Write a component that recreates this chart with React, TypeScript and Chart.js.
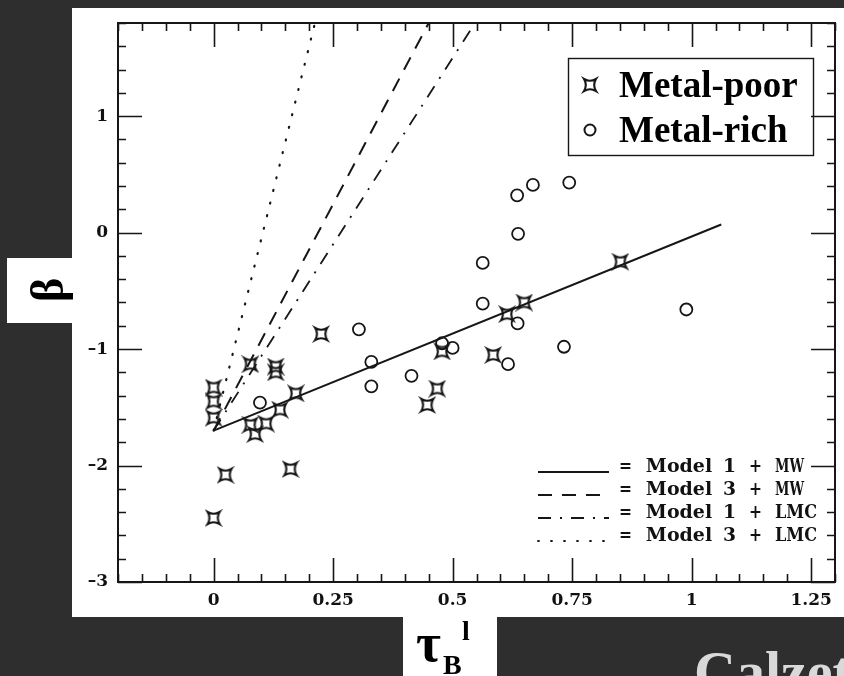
import React, { useEffect, useRef } from "react";
import { Chart, registerables } from "chart.js";

Chart.register(...registerables);

// Metal-poor starbursts: optical depth tau_B^l and UV slope beta
const metalPoorTau = [0, 0, 0, 0, 0.025, 0.077, 0.077, 0.087, 0.11, 0.13, 0.13, 0.139, 0.161, 0.172, 0.225, 0.447, 0.468, 0.478, 0.585, 0.614, 0.65, 0.851];
const metalPoorBeta = [-1.33, -1.45, -1.59, -2.45, -2.08, -1.13, -1.65, -1.73, -1.64, -1.15, -1.2, -1.52, -2.03, -1.38, -0.87, -1.48, -1.34, -1.02, -1.05, -0.7, -0.6, -0.25];

// Metal-rich starbursts
const metalRichTau = [0.097, 0.304, 0.33, 0.33, 0.414, 0.478, 0.5, 0.563, 0.563, 0.616, 0.635, 0.637, 0.636, 0.668, 0.733, 0.744, 0.989];
const metalRichBeta = [-1.46, -0.83, -1.11, -1.32, -1.23, -0.95, -0.99, -0.26, -0.61, -1.13, 0.32, -0.01, -0.78, 0.41, -0.98, 0.43, -0.66];

// Model tracks (start and end points)
const model1MwTau = [0, 1.062];
const model1MwBeta = [-1.7, 0.07];
const model3MwTau = [0, 0.45];
const model3MwBeta = [-1.7, 1.8];
const model1LmcTau = [0, 0.547];
const model1LmcBeta = [-1.7, 1.8];
const model3LmcTau = [0, 0.212];
const model3LmcBeta = [-1.7, 1.8];

const xTickValues = [0, 0.25, 0.5, 0.75, 1, 1.25];
const xTickLabels = ["0", "0.25", "0.5", "0.75", "1", "1.25"];
const yTickValues = [-3, -2, -1, 0, 1];
const yTickLabels = ["\u20133", "\u20132", "\u20131", "0", "1"];

const X_MIN = -0.2;
const X_MAX = 1.3;
const Y_MIN = -3;
const Y_MAX = 1.8;
const X_MINOR = 0.05;
const Y_MINOR = 0.2;

const INK = "#161616";
const DASHED = [14, 10];
const DASH_DOT = [13, 9, 2, 9];
const DOTTED = [1, 12];

const zip = (xs: number[], ys: number[]) => xs.map((x, i) => ({ x, y: ys[i] }));

function makeStar(): HTMLCanvasElement {
  const c = document.createElement("canvas");
  c.width = 18;
  c.height = 18;
  const g = c.getContext("2d")!;
  const m = 9;
  const r = 6;
  const k = 2.4;
  g.strokeStyle = INK;
  g.lineWidth = 2.1;
  g.beginPath();
  g.moveTo(m - r, m - r);
  g.quadraticCurveTo(m, m - k, m + r, m - r);
  g.quadraticCurveTo(m + k, m, m + r, m + r);
  g.quadraticCurveTo(m, m + k, m - r, m + r);
  g.quadraticCurveTo(m - k, m, m - r, m - r);
  g.closePath();
  g.stroke();
  return c;
}

// Draws a label on a fixed character grid, fitting each word to its cells
function drawCells(ctx: CanvasRenderingContext2D, text: string, x0: number, baseline: number, cell: number) {
  ctx.font = 'bold 19px "DejaVu Serif"';
  ctx.textAlign = "left";
  ctx.textBaseline = "alphabetic";
  let i = 0;
  while (i < text.length) {
    if (text[i] === " ") {
      i++;
      continue;
    }
    let j = i;
    while (j < text.length && text[j] !== " ") j++;
    const tok = text.slice(i, j);
    const span = (j - i) * cell + (j - i > 1 ? 3 : 0);
    const w = ctx.measureText(tok).width;
    const sx = Math.min(1, span / w);
    const start = x0 + i * cell + Math.max(0, (span - w * sx) / 2);
    ctx.save();
    ctx.translate(start, baseline);
    ctx.scale(sx, 1);
    ctx.fillText(tok, 0, 0);
    ctx.restore();
    i = j;
  }
}

export default function App() {
  const ref = useRef<HTMLCanvasElement | null>(null);

  useEffect(() => {
    document.body.style.margin = "0";
    const canvas = ref.current!;
    const star = makeStar();

    const paper = {
      id: "paper",
      beforeDraw(chart: Chart) {
        const ctx = chart.ctx;
        ctx.save();
        ctx.fillStyle = "#2e2e2e";
        ctx.fillRect(0, 0, chart.width, chart.height);
        ctx.fillStyle = "#ffffff";
        ctx.fillRect(72, 8, chart.width - 72, 609);
        ctx.fillRect(7, 258, 65, 65);
        ctx.fillRect(403, 617, 94, 59);

        // y axis title
        ctx.fillStyle = "#000";
        ctx.save();
        ctx.translate(63, 290);
        ctx.rotate(-Math.PI / 2);
        ctx.font = 'bold 46px "Liberation Serif"';
        ctx.textAlign = "center";
        ctx.textBaseline = "alphabetic";
        ctx.fillText("\u03b2", 0, 0);
        ctx.restore();

        // x axis title
        ctx.textAlign = "left";
        ctx.textBaseline = "alphabetic";
        ctx.font = 'bold 54px "Liberation Serif"';
        ctx.fillText("\u03c4", 416, 661);
        ctx.font = 'bold 28px "Liberation Serif"';
        ctx.fillText("B", 443, 674);
        ctx.fillText("l", 462, 640);

        // author credit
        ctx.fillStyle = "#d9d9d9";
        ctx.font = 'bold 58px "Liberation Serif"';
        ctx.fillText("Calzetti", 694, 691);
        ctx.restore();
      },
      afterDraw(chart: Chart) {
        const ctx = chart.ctx;
        const { left, right, top, bottom } = chart.chartArea;
        const xs = chart.scales.x;
        const ys = chart.scales.y;
        ctx.save();
        ctx.strokeStyle = INK;
        ctx.lineWidth = 1.6;
        ctx.beginPath();
        for (let i = 0; ; i++) {
          const v = X_MIN + i * X_MINOR;
          if (v > X_MAX + 1e-9) break;
          const px = Math.round(xs.getPixelForValue(v)) + 0.5;
          const major = xTickValues.some((t) => Math.abs(t - v) < 1e-6);
          const len = major ? 24 : 8;
          ctx.moveTo(px, bottom);
          ctx.lineTo(px, bottom - len);
          ctx.moveTo(px, top);
          ctx.lineTo(px, top + len);
        }
        for (let i = 0; ; i++) {
          const v = Y_MIN + i * Y_MINOR;
          if (v > Y_MAX + 1e-9) break;
          const py = Math.round(ys.getPixelForValue(v)) + 0.5;
          const major = yTickValues.some((t) => Math.abs(t - v) < 1e-6);
          const len = major ? 24 : 8;
          ctx.moveTo(left, py);
          ctx.lineTo(left + len, py);
          ctx.moveTo(right, py);
          ctx.lineTo(right - len, py);
        }
        ctx.stroke();
        ctx.lineWidth = 2;
        ctx.strokeRect(left, top, right - left, bottom - top);

        // symbol key
        const ds = chart.data.datasets;
        ctx.lineWidth = 1.4;
        ctx.strokeRect(568.5, 58.5, 245, 97);
        ctx.drawImage(star, 590 - 9, 85 - 9);
        ctx.lineWidth = 2;
        ctx.beginPath();
        ctx.arc(590, 130, 5.5, 0, Math.PI * 2);
        ctx.stroke();
        ctx.fillStyle = "#000";
        ctx.font = 'bold 37px "Liberation Serif"';
        ctx.textAlign = "left";
        ctx.textBaseline = "alphabetic";
        ctx.fillText(String(ds[0].label), 619, 97);
        ctx.fillText(String(ds[1].label), 619, 142);

        // line-style key
        const rows = [2, 3, 4, 5];
        rows.forEach((di, r) => {
          const d: any = ds[di];
          const yb = 472 + r * 23;
          ctx.save();
          ctx.strokeStyle = INK;
          ctx.lineWidth = 1.8;
          ctx.lineCap = d.borderCapStyle || "butt";
          ctx.setLineDash(d.borderDash || []);
          ctx.beginPath();
          ctx.moveTo(538, yb);
          ctx.lineTo(609, yb);
          ctx.stroke();
          ctx.restore();
          ctx.fillStyle = "#111";
          drawCells(ctx, String(d.label), 619, yb, 13);
        });
        ctx.restore();
      },
    };

    const tickFont = { family: "DejaVu Serif", size: 17, weight: "bold" as const };

    const chart = new Chart(canvas, {
      type: "scatter",
      data: {
        datasets: [
          {
            label: "Metal-poor",
            data: zip(metalPoorTau, metalPoorBeta),
            pointStyle: star,
            pointRadius: 8,
            showLine: false,
          },
          {
            label: "Metal-rich",
            data: zip(metalRichTau, metalRichBeta),
            pointStyle: "circle",
            pointRadius: 6,
            borderWidth: 1.8,
            borderColor: INK,
            backgroundColor: "rgba(0,0,0,0)",
            showLine: false,
          },
          {
            label: "= Model 1 + MW",
            data: zip(model1MwTau, model1MwBeta),
            showLine: true,
            pointRadius: 0,
            borderColor: INK,
            borderWidth: 2,
            borderDash: [],
          },
          {
            label: "= Model 3 + MW",
            data: zip(model3MwTau, model3MwBeta),
            showLine: true,
            pointRadius: 0,
            borderColor: INK,
            borderWidth: 2,
            borderDash: DASHED,
          },
          {
            label: "= Model 1 + LMC",
            data: zip(model1LmcTau, model1LmcBeta),
            showLine: true,
            pointRadius: 0,
            borderColor: INK,
            borderWidth: 1.8,
            borderDash: DASH_DOT,
          },
          {
            label: "= Model 3 + LMC",
            data: zip(model3LmcTau, model3LmcBeta),
            showLine: true,
            pointRadius: 0,
            borderColor: INK,
            borderWidth: 2.2,
            borderDash: DOTTED,
            borderCapStyle: "round",
          },
        ] as any,
      },
      options: {
        animation: false,
        responsive: false,
        events: [],
        layout: { padding: { top: 23, right: 5, left: 0, bottom: 0 } },
        plugins: { legend: { display: false }, tooltip: { enabled: false } },
        scales: {
          x: {
            type: "linear",
            min: X_MIN,
            max: X_MAX,
            position: "bottom",
            grid: { display: false, drawTicks: false },
            border: { display: false },
            ticks: {
              padding: 8,
              color: "#111",
              font: tickFont,
              maxRotation: 0,
              autoSkip: false,
              callback: (v: any) => {
                const i = xTickValues.findIndex((t) => Math.abs(t - Number(v)) < 1e-6);
                return i >= 0 ? xTickLabels[i] : "";
              },
            },
            afterBuildTicks: (s: any) => {
              s.ticks = xTickValues.map((value) => ({ value }));
            },
            afterFit: (s: any) => {
              s.height = 94;
            },
          },
          y: {
            type: "linear",
            min: Y_MIN,
            max: Y_MAX,
            position: "left",
            grid: { display: false, drawTicks: false },
            border: { display: false },
            ticks: {
              padding: 10,
              color: "#111",
              font: tickFont,
              autoSkip: false,
              callback: (v: any) => {
                const i = yTickValues.findIndex((t) => Math.abs(t - Number(v)) < 1e-6);
                return i >= 0 ? yTickLabels[i] : "";
              },
            },
            afterBuildTicks: (s: any) => {
              s.ticks = yTickValues.map((value) => ({ value }));
            },
            afterFit: (s: any) => {
              s.width = 118;
            },
          },
        },
      },
      plugins: [paper],
    });

    return () => chart.destroy();
  }, []);

  return (
    <canvas
      ref={ref}
      width={844}
      height={676}
      style={{ display: "block", position: "fixed", left: 0, top: 0, width: 844, height: 676 }}
    />
  );
}
